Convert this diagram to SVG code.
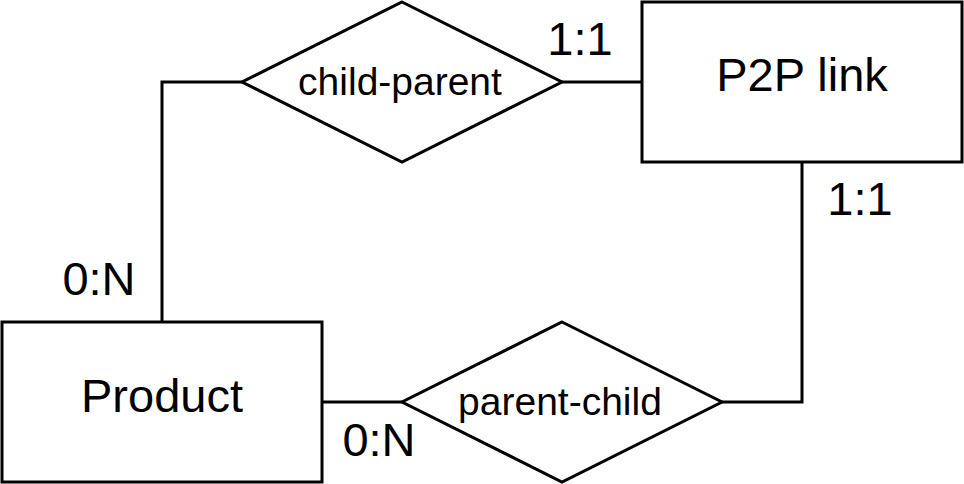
<svg xmlns="http://www.w3.org/2000/svg" width="964" height="484" viewBox="0 0 964 484">
<style>
.shape{fill:#ffffff;stroke:#000000;stroke-width:3}
.conn{fill:none;stroke:#000000;stroke-width:3}
text{font-family:"Liberation Sans",Arial,sans-serif;fill:#000000;text-anchor:middle}
.rel{font-size:39px}
.ent{font-size:47px}
.card{font-size:47px}
</style>
<rect x="0" y="0" width="964" height="484" fill="#ffffff"/>
<g id="connectors">
<polyline class="conn" points="242,82 162,82 162,322"/>
<line class="conn" x1="562" y1="82" x2="642" y2="82"/>
<polyline class="conn" points="802,162 802,402 722,402"/>
<line class="conn" x1="322" y1="402" x2="402" y2="402"/>
</g>
<g id="child-parent">
<polygon class="shape" points="402,2 562,82 402,162 242,82"/>
<text class="rel" x="400" y="95">child-parent</text>
</g>
<g id="p2p-link">
<rect class="shape" x="642" y="2" width="320" height="160"/>
<text class="ent" x="802" y="91">P2P link</text>
</g>
<g id="product">
<rect class="shape" x="2" y="322" width="320" height="160"/>
<text class="ent" x="162" y="412">Product</text>
</g>
<g id="parent-child">
<polygon class="shape" points="562,322 722,402 562,482 402,402"/>
<text class="rel" x="560" y="415">parent-child</text>
</g>
<g id="labels">
<text class="card" x="580" y="55">1:1</text>
<text class="card" x="860" y="215">1:1</text>
<text class="card" x="99" y="295">0:N</text>
<text class="card" x="379" y="456">0:N</text>
</g>
</svg>
